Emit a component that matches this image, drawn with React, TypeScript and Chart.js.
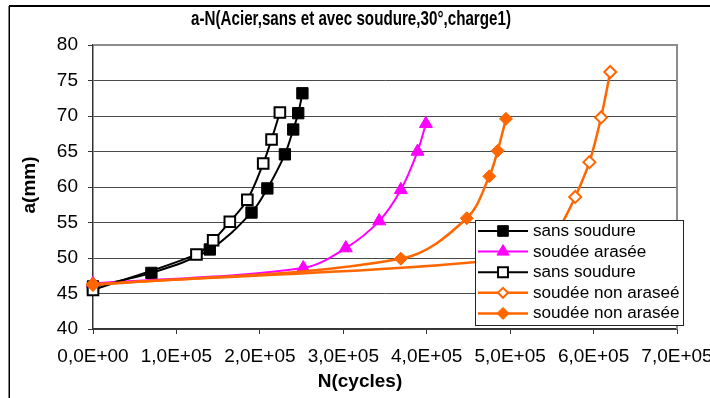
import React, { useEffect, useRef } from 'react';
import { Chart, registerables } from 'chart.js';
import { drawPoint } from 'chart.js/helpers';

Chart.register(...registerables);

// ---- data ----
const sansSoudureN = [0, 70000, 140000, 190000, 209000, 230000, 240000, 246000, 251000];
const sansSoudureA = [46.0, 47.9, 51.2, 56.4, 59.8, 64.6, 68.1, 70.4, 73.2];

const soudeeAraseeN = [0, 252000, 303000, 343000, 369000, 389000, 399000];
const soudeeAraseeA = [46.4, 48.6, 51.4, 55.2, 59.6, 65.0, 68.9];

const sansSoudure2N = [0, 124000, 144000, 164000, 185000, 204000, 214000, 224000];
const sansSoudure2A = [45.5, 50.5, 52.5, 55.1, 58.2, 63.3, 66.7, 70.5];

const nonAraseeOpenN = [0, 545000, 560000, 578000, 595000, 609000, 620000];
const nonAraseeOpenA = [46.3, 50.5, 54.3, 58.6, 63.5, 69.8, 76.2];

const nonAraseeFilledN = [0, 369000, 448000, 475000, 485000, 495000];
const nonAraseeFilledA = [46.2, 49.9, 55.6, 61.5, 65.1, 69.6];

const seriesLabels = [
  'sans soudure',
  'soudée arasée',
  'sans soudure',
  'soudée non araseé',
  'soudée non arasée',
];

const chartTitle = 'a-N(Acier,sans et avec soudure,30°,charge1)';
const xAxisTitle = 'N(cycles)';
const yAxisTitle = 'a(mm)';

const xMin = 0;
const xMax = 700000;
const xStep = 100000;
const yMin = 40;
const yMax = 80;
const yStep = 5;

const BLACK = '#000000';
const MAGENTA = '#FF00FF';
const ORANGE = '#FF6600';

function pts(n: number[], a: number[]) {
  return n.map((v, i) => ({ x: v, y: a[i] }));
}

function sciLabel(v: number): string {
  if (v === 0) return '0,0E+00';
  const e = Math.floor(Math.log10(Math.abs(v)) + 1e-9);
  const m = v / Math.pow(10, e);
  return m.toFixed(1).replace('.', ',') + 'E+' + String(e).padStart(2, '0');
}

const FONT = '"Liberation Sans", Arial, sans-serif';

const legendMarkers = [
  { style: 'rect', radius: 7.5, fill: BLACK, stroke: BLACK, bw: 1, line: BLACK, lw: 2 },
  { style: 'triangle', radius: 7, fill: MAGENTA, stroke: MAGENTA, bw: 1, line: MAGENTA, lw: 2 },
  { style: 'rect', radius: 7, fill: '#ffffff', stroke: BLACK, bw: 2, line: BLACK, lw: 2 },
  { style: 'rectRot', radius: 5, fill: '#ffffff', stroke: ORANGE, bw: 2, line: ORANGE, lw: 2.5 },
  { style: 'rectRot', radius: 6, fill: ORANGE, stroke: ORANGE, bw: 1, line: ORANGE, lw: 2.5 },
];

function drawText(
  ctx: CanvasRenderingContext2D,
  text: string,
  x: number,
  y: number,
  font: string,
  align: CanvasTextAlign,
  baseline: CanvasTextBaseline,
  sx = 1,
  rot = 0,
  fitWidth = 0
) {
  ctx.save();
  ctx.translate(x, y);
  if (rot) ctx.rotate(rot);
  ctx.font = font;
  let s = sx;
  if (fitWidth) {
    const w = ctx.measureText(text).width;
    s = fitWidth / w;
  }
  ctx.scale(s, 1);
  ctx.textAlign = align;
  ctx.textBaseline = baseline;
  ctx.fillStyle = '#000';
  ctx.fillText(text, 0, 0);
  ctx.restore();
}

const decorPlugin = {
  id: 'decor',
  beforeDraw(chart: any) {
    const ctx = chart.ctx as CanvasRenderingContext2D;
    ctx.save();
    ctx.fillStyle = '#ffffff';
    ctx.fillRect(0, 0, chart.width, chart.height);
    ctx.strokeStyle = '#000';
    ctx.lineWidth = 2;
    ctx.beginPath();
    ctx.moveTo(9, 6);
    ctx.lineTo(chart.width + 5, 6);
    ctx.stroke();
    ctx.lineWidth = 1.5;
    ctx.beginPath();
    ctx.moveTo(9.25, 6);
    ctx.lineTo(9.25, chart.height + 5);
    ctx.stroke();
    ctx.restore();
  },
  beforeDatasetsDraw(chart: any) {
    const ctx = chart.ctx as CanvasRenderingContext2D;
    const a = chart.chartArea;
    ctx.save();
    ctx.strokeStyle = '#8c8c8c';
    ctx.lineWidth = 2;
    ctx.beginPath();
    ctx.moveTo(a.left, a.top);
    ctx.lineTo(a.right, a.top);
    ctx.lineTo(a.right, a.bottom);
    ctx.stroke();
    ctx.restore();
  },
  afterDraw(chart: any) {
    const ctx = chart.ctx as CanvasRenderingContext2D;
    const a = chart.chartArea;
    // titles
    drawText(ctx, chartTitle, 351, 24.5, `bold 20.5px ${FONT}`, 'center', 'alphabetic', 1, 0, 320);
    drawText(ctx, xAxisTitle, 360, 382, `bold 19px ${FONT}`, 'center', 'middle');
    drawText(ctx, yAxisTitle, 30, (a.top + a.bottom) / 2 - 2, `bold 19px ${FONT}`, 'center', 'middle', 1, -Math.PI / 2);

    // legend
    const bx = 475.5, by = 220.5, bw = 208, bh = 105;
    ctx.save();
    ctx.fillStyle = '#ffffff';
    ctx.fillRect(bx, by, bw, bh);
    ctx.strokeStyle = '#222';
    ctx.lineWidth = 1;
    ctx.strokeRect(bx, by, bw, bh);
    ctx.restore();
    chart.data.datasets.forEach((ds: any, i: number) => {
      const y = 231 + i * 20.6;
      const m = legendMarkers[i];
      ctx.save();
      ctx.strokeStyle = m.line;
      ctx.lineWidth = m.lw;
      ctx.beginPath();
      ctx.moveTo(478, y);
      ctx.lineTo(528, y);
      ctx.stroke();
      ctx.fillStyle = m.fill;
      ctx.strokeStyle = m.stroke;
      ctx.lineWidth = m.bw;
      drawPoint(ctx, { pointStyle: m.style as any, rotation: 0, radius: m.radius, borderWidth: m.bw }, 503, y);
      ctx.restore();
      drawText(ctx, ds.label, 533, y + 0.5, `16px ${FONT}`, 'left', 'middle', 1.07);
    });
  },
};

export default function App() {
  const ref = useRef<HTMLCanvasElement>(null);
  useEffect(() => {
    document.body.style.margin = '0';
    const common = { clip: false as any, tension: 0.35, fill: false };
    const chart = new Chart(ref.current as HTMLCanvasElement, {
      type: 'line',
      data: {
        datasets: [
          {
            ...common,
            label: seriesLabels[0],
            data: pts(sansSoudureN, sansSoudureA),
            borderColor: BLACK,
            backgroundColor: BLACK,
            borderWidth: 2,
            pointStyle: 'rect',
            pointRadius: 8,
            pointBorderWidth: 1,
            pointBackgroundColor: BLACK,
            pointBorderColor: BLACK,
            order: 5,
          },
          {
            ...common,
            label: seriesLabels[1],
            data: pts(soudeeAraseeN, soudeeAraseeA),
            borderColor: MAGENTA,
            backgroundColor: MAGENTA,
            borderWidth: 2,
            pointStyle: 'triangle',
            pointRadius: 7.5,
            pointBorderWidth: 1,
            pointBackgroundColor: MAGENTA,
            pointBorderColor: MAGENTA,
            order: 4,
          },
          {
            ...common,
            label: seriesLabels[2],
            data: pts(sansSoudure2N, sansSoudure2A),
            borderColor: BLACK,
            backgroundColor: '#ffffff',
            borderWidth: 2,
            pointStyle: 'rect',
            pointRadius: 7.5,
            pointBorderWidth: 2,
            pointBackgroundColor: '#ffffff',
            pointBorderColor: BLACK,
            order: 3,
          },
          {
            ...common,
            label: seriesLabels[3],
            data: pts(nonAraseeOpenN, nonAraseeOpenA),
            borderColor: ORANGE,
            backgroundColor: '#ffffff',
            borderWidth: 2.5,
            pointStyle: 'rectRot',
            pointRadius: 6,
            pointBorderWidth: 2,
            pointBackgroundColor: '#ffffff',
            pointBorderColor: ORANGE,
            order: 2,
          },
          {
            ...common,
            label: seriesLabels[4],
            data: pts(nonAraseeFilledN, nonAraseeFilledA),
            borderColor: ORANGE,
            backgroundColor: ORANGE,
            borderWidth: 2.5,
            pointStyle: 'rectRot',
            pointRadius: 6.5,
            pointBorderWidth: 1,
            pointBackgroundColor: ORANGE,
            pointBorderColor: ORANGE,
            order: 1,
          },
        ],
      },
      options: {
        animation: false,
        responsive: false,
        maintainAspectRatio: false,
        layout: { padding: { left: 0, top: 45, right: 33, bottom: 0 } },
        plugins: {
          legend: { display: false },
          title: { display: false },
          tooltip: { enabled: false },
        },
        scales: {
          x: {
            type: 'linear',
            min: xMin,
            max: xMax,
            ticks: {
              stepSize: xStep,
              autoSkip: false,
              maxRotation: 0,
              minRotation: 0,
              padding: 11,
              color: '#000',
              font: { family: FONT, size: 19 },
              callback: (v: any) => sciLabel(Number(v)),
            },
            grid: {
              drawOnChartArea: false,
              drawTicks: true,
              tickLength: 5,
              color: '#333',
              tickColor: '#333',
            },
            border: { display: true, color: '#333', width: 1.5 },
            afterFit: (s: any) => {
              s.height = 69;
              s.paddingLeft = 0;
              s.paddingRight = 0;
            },
          },
          y: {
            type: 'linear',
            min: yMin,
            max: yMax,
            ticks: {
              stepSize: yStep,
              padding: 10,
              color: '#000',
              font: { family: FONT, size: 19 },
            },
            grid: {
              drawTicks: true,
              tickLength: 5,
              color: (c: any) => (c.tick && c.tick.value === yMax ? 'rgba(0,0,0,0)' : '#4a4a4a'),
              tickColor: '#333',
              lineWidth: 1,
            },
            border: { display: true, color: '#333', width: 1.5 },
            afterFit: (s: any) => {
              s.width = 93;
              s.paddingTop = 0;
              s.paddingBottom = 0;
            },
          },
        },
      } as any,
      plugins: [decorPlugin],
    });
    return () => chart.destroy();
  }, []);
  return (
    <div style={{ width: 710, height: 398 }}>
      <canvas ref={ref} width={710} height={398} style={{ display: 'block' }} />
    </div>
  );
}
